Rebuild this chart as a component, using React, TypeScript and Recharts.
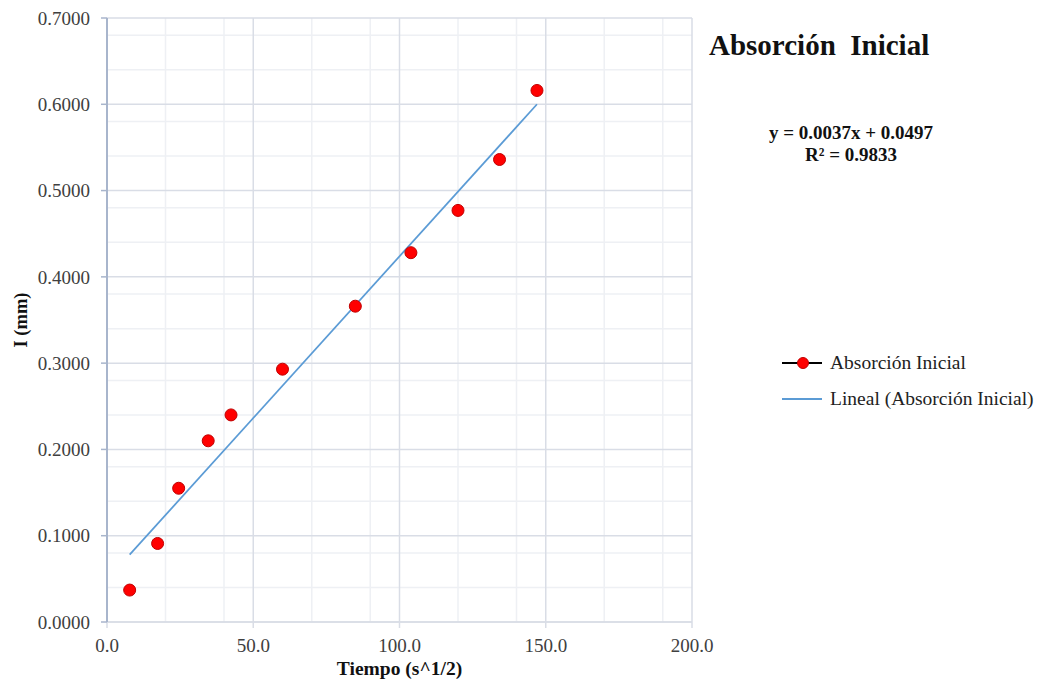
import React from "react";
import {
  ScatterChart,
  Scatter,
  XAxis,
  YAxis,
  CartesianGrid,
  Label,
} from "recharts";

// tiempo (s^1/2) y absorción I (mm)
const tiempo = [7.75, 17.3, 24.5, 34.6, 42.4, 60.0, 84.9, 103.9, 120.0, 134.2, 147.0];
const absorcion = [0.037, 0.091, 0.155, 0.21, 0.24, 0.293, 0.366, 0.428, 0.477, 0.536, 0.616];

// extremos de la línea de tendencia (lineal)
const trendX = [7.75, 147.0];
const trendY = [0.078, 0.6];

const xTicks = [0, 50, 100, 150, 200];
const yTicks = [0, 0.1, 0.2, 0.3, 0.4, 0.5, 0.6, 0.7];
const xMinor = [10, 20, 30, 40, 60, 70, 80, 90, 110, 120, 130, 140, 160, 170, 180, 190];
const yMinor = [
  0.02, 0.04, 0.06, 0.08, 0.12, 0.14, 0.16, 0.18, 0.22, 0.24, 0.26, 0.28,
  0.32, 0.34, 0.36, 0.38, 0.42, 0.44, 0.46, 0.48, 0.52, 0.54, 0.56, 0.58,
  0.62, 0.64, 0.66, 0.68,
];

const serieName = "Absorción Inicial";
const trendName = "Lineal (Absorción Inicial)";
const title = "Absorción  Inicial";
const ecuacion = "y = 0.0037x + 0.0497";
const r2 = "R² = 0.9833";

const puntos = tiempo.map((x, i) => ({ x, y: absorcion[i] }));
const tendencia = trendX.map((x, i) => ({ x, y: trendY[i] }));

const FONT = '"Liberation Serif", "Times New Roman", serif';
const TEXT = "#404040";
const MAJOR = "#d9dde6";
const MINOR = "#eef0f4";
const AXIS = "#a8b5cc";

const RedDot = (props: any) => {
  const { cx, cy } = props;
  if (cx == null || cy == null) return null;
  return <circle cx={cx} cy={cy} r={6} fill="#ff0000" stroke="#c00000" strokeWidth={1} />;
};

const NoDot = () => null;

const YTitle = (props: any) => {
  const vb = props.viewBox;
  const x = vb.x + 11;
  const y = vb.y + vb.height / 2;
  return (
    <text
      x={x}
      y={y}
      transform={`rotate(-90, ${x}, ${y})`}
      textAnchor="middle"
      dominantBaseline="central"
      fontFamily={FONT}
      fontWeight="bold"
      fontSize={18.5}
      fill="#111"
    >
      I (mm)
    </text>
  );
};

const XTitle = (props: any) => {
  const vb = props.viewBox;
  return (
    <text
      x={vb.x + vb.width / 2}
      y={675}
      textAnchor="middle"
      fontFamily={FONT}
      fontWeight="bold"
      fontSize={19.5}
      fill="#111"
    >
      Tiempo (s^1/2)
    </text>
  );
};

const LegendBox = () => (
  <div style={{ fontFamily: FONT, fontSize: 19.5, color: "#222" }}>
    <div style={{ display: "flex", alignItems: "center", height: 36 }}>
      <svg width={48} height={20}>
        <line x1={0} y1={10} x2={40} y2={10} stroke="#000" strokeWidth={2} />
        <circle cx={21} cy={10} r={5.5} fill="#ff0000" stroke="#c00000" />
      </svg>
      <span>{serieName}</span>
    </div>
    <div style={{ display: "flex", alignItems: "center", height: 36 }}>
      <svg width={48} height={20}>
        <line x1={0} y1={10} x2={40} y2={10} stroke="#5b9bd5" strokeWidth={2} />
      </svg>
      <span>{trendName}</span>
    </div>
  </div>
);

export default function App() {
  return (
    <div style={{ position: "absolute", left: 0, top: 0, width: 1041, height: 688, background: "#fff" }}>
      <ScatterChart
        width={1041}
        height={688}
        margin={{ top: 18, right: 349, bottom: 16, left: 10 }}
      >
        <CartesianGrid
          stroke={MINOR}
          strokeWidth={1.5}
          verticalValues={xMinor}
          horizontalValues={yMinor}
        />
        <CartesianGrid stroke={MAJOR} strokeWidth={1.5} />
        <XAxis
          type="number"
          dataKey="x"
          domain={[0, 200]}
          ticks={xTicks}
          tickFormatter={(v: number) => v.toFixed(1)}
          height={50}
          tickSize={6}
          tickMargin={11}
          axisLine={{ stroke: MAJOR, strokeWidth: 1.5 }}
          tickLine={{ stroke: MAJOR, strokeWidth: 1.5 }}
          tick={{ fontFamily: FONT, fontSize: 19, fill: TEXT }}
          allowDataOverflow
        >
          <Label content={XTitle} />
        </XAxis>
        <YAxis
          type="number"
          dataKey="y"
          domain={[0, 0.7]}
          ticks={yTicks}
          tickFormatter={(v: number) => v.toFixed(4)}
          width={97}
          tickSize={6}
          tickMargin={11}
          axisLine={{ stroke: AXIS, strokeWidth: 2 }}
          tickLine={{ stroke: AXIS, strokeWidth: 1.5 }}
          tick={{ fontFamily: FONT, fontSize: 19, fill: TEXT }}
          allowDataOverflow
        >
          <Label content={YTitle} />
        </YAxis>
        <Scatter
          name={trendName}
          data={tendencia}
          line={{ stroke: "#5b9bd5", strokeWidth: 1.75 }}
          shape={NoDot}
          isAnimationActive={false}
        />
        <Scatter
          name={serieName}
          data={puntos}
          shape={RedDot}
          isAnimationActive={false}
        />
      </ScatterChart>
      <div style={{ position: "absolute", left: 782, top: 345 }}>
        <LegendBox />
      </div>
      <div
        style={{
          position: "absolute",
          left: 709,
          top: 29,
          fontFamily: FONT,
          fontWeight: "bold",
          fontSize: 29,
          lineHeight: "32px",
          whiteSpace: "pre",
          color: "#111",
        }}
      >
        {title}
      </div>
      <div
        style={{
          position: "absolute",
          left: 741,
          top: 122,
          width: 220,
          textAlign: "center",
          fontFamily: FONT,
          fontWeight: "bold",
          fontSize: 19,
          lineHeight: "22px",
          color: "#111",
        }}
      >
        <div>{ecuacion}</div>
        <div>{r2}</div>
      </div>
    </div>
  );
}
